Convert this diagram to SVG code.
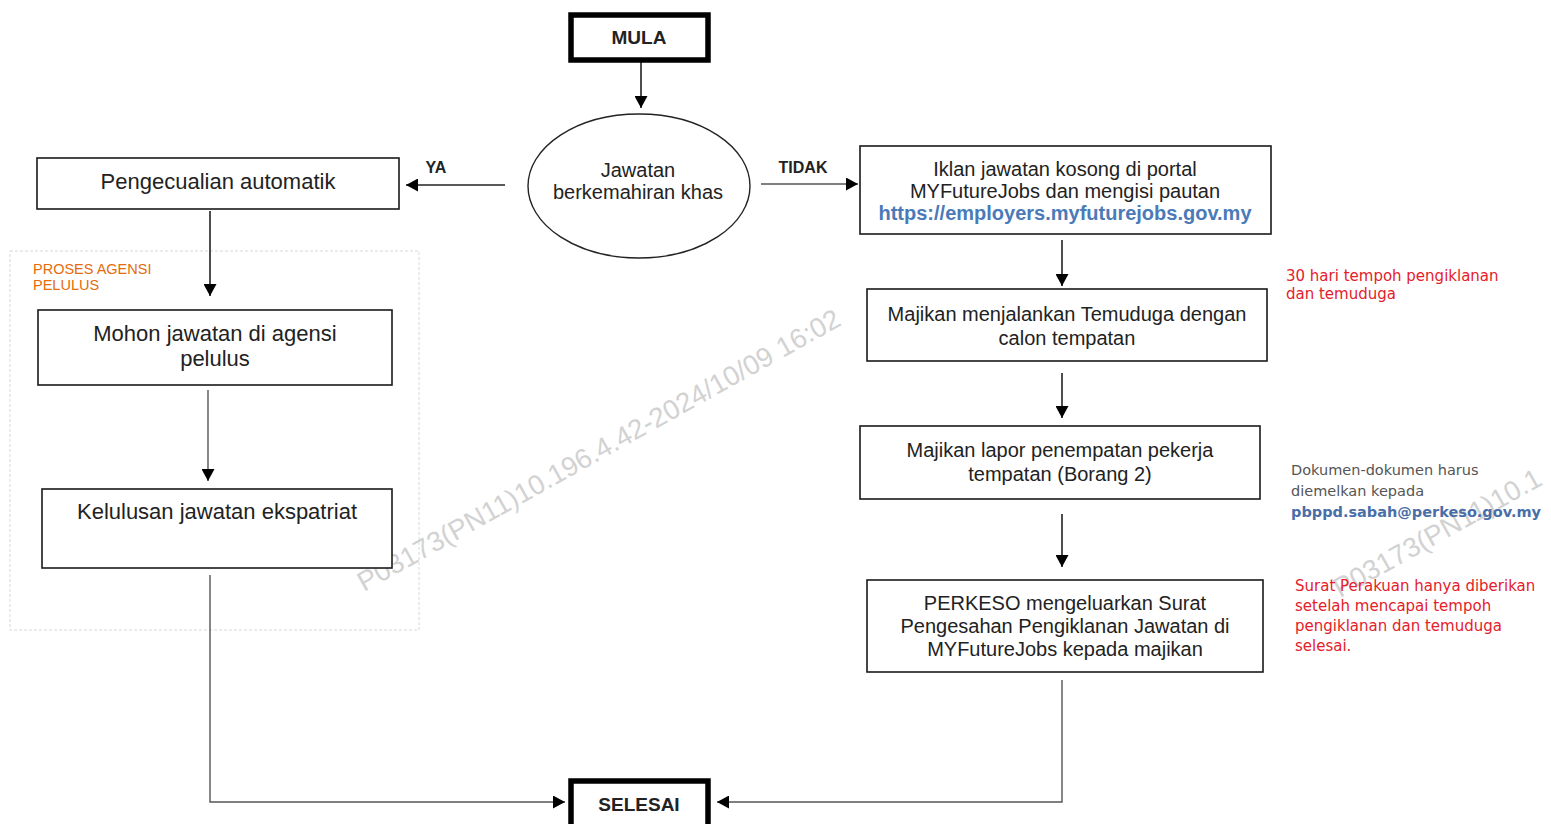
<svg xmlns="http://www.w3.org/2000/svg" width="1551" height="824" viewBox="0 0 1551 824">
<style>
.box{fill:#fff;stroke:#1a1a1a;stroke-width:1.6}
.term{fill:#fff;stroke:#000;stroke-width:5.5}
.t{font-family:"Liberation Sans",Arial,sans-serif;fill:#222;text-anchor:middle}
.l22{font-size:22px}
.l20{font-size:20px}
.b{font-weight:bold}
.url{fill:#4a7ab8;font-weight:bold}
.note{font-family:"DejaVu Sans",Verdana,sans-serif;font-size:14.5px}
.red{fill:#e5202a;font-size:15px}
.grey{fill:#555}
.blue{fill:#4a6ea8;font-weight:bold}
.wm{font-family:"Liberation Sans",Arial,sans-serif;font-size:27.5px;fill:#d2d2d2}
.c{fill:none;stroke:#222;stroke-width:1.6}
.cg{fill:none;stroke:#555;stroke-width:1.4}
</style>
<defs>
<marker id="ah" markerUnits="userSpaceOnUse" markerWidth="13" markerHeight="13" refX="12" refY="6.5" orient="auto">
<path d="M0,0 L12,6.5 L0,13 z" fill="#000"/>
</marker>
</defs>
<rect width="1551" height="824" fill="#fff"/>

<g id="region-agensi">
<rect x="10" y="251" width="409" height="379" fill="none" stroke="#d8d8d8" stroke-width="1" stroke-dasharray="3,2"/>
<text x="33" y="274" style="font-family:'Liberation Sans',Arial,sans-serif;font-size:14.5px;fill:#e46c0a">PROSES AGENSI</text>
<text x="33" y="290" style="font-family:'Liberation Sans',Arial,sans-serif;font-size:14.5px;fill:#e46c0a">PELULUS</text>
</g>

<g id="watermark">
<text class="wm" transform="translate(364,592) rotate(-29.2)">P03173(PN11)10.196.4.42-2024/10/09 16:02</text>
<text class="wm" transform="translate(1340,598) rotate(-29.2)">P03173(PN11)10.1</text>
</g>

<g id="connectors">
<path class="c" d="M641 62 L641 108" marker-end="url(#ah)"/>
<path class="c" d="M505 185 L406 185" marker-end="url(#ah)"/>
<path class="cg" d="M761 184 L858 184" marker-end="url(#ah)"/>
<path class="c" d="M210 211 L210 296" marker-end="url(#ah)"/>
<path class="cg" d="M208 390 L208 481" marker-end="url(#ah)"/>
<path class="cg" d="M210 575 L210 802 L565 802" marker-end="url(#ah)"/>
<path class="c" d="M1062 240 L1062 286" marker-end="url(#ah)"/>
<path class="c" d="M1062 373 L1062 418" marker-end="url(#ah)"/>
<path class="c" d="M1062 514 L1062 567" marker-end="url(#ah)"/>
<path class="cg" d="M1062 680 L1062 802 L717 802" marker-end="url(#ah)"/>
<text class="t b" x="436" y="173" style="font-size:16px">YA</text>
<text class="t b" x="803" y="173" style="font-size:16px">TIDAK</text>
</g>

<g id="mula">
<rect class="term" x="571" y="15" width="137" height="45"/>
<text class="t b" x="639" y="44" style="font-size:19px">MULA</text>
</g>

<g id="decision">
<ellipse cx="639" cy="186" rx="111" ry="72" fill="#fff" stroke="#222" stroke-width="1.4"/>
<text class="t l20" x="638" y="177">Jawatan</text>
<text class="t l20" x="638" y="199">berkemahiran khas</text>
</g>

<g id="pengecualian">
<rect class="box" x="37" y="158" width="362" height="51"/>
<text class="t l22" x="218" y="189">Pengecualian automatik</text>
</g>

<g id="mohon">
<rect class="box" x="38" y="310" width="354" height="75"/>
<text class="t l22" x="215" y="341">Mohon jawatan di agensi</text>
<text class="t l22" x="215" y="366">pelulus</text>
</g>

<g id="kelulusan">
<rect class="box" x="42" y="489" width="350" height="79"/>
<text class="t l22" x="217" y="519">Kelulusan jawatan ekspatriat</text>
</g>

<g id="iklan">
<rect class="box" x="860" y="146" width="411" height="88"/>
<text class="t l20" x="1065" y="176">Iklan jawatan kosong di portal</text>
<text class="t l20" x="1065" y="198">MYFutureJobs dan mengisi pautan</text>
<text class="t l20 url" x="1065" y="220">https://employers.myfuturejobs.gov.my</text>
</g>

<g id="temuduga">
<rect class="box" x="867" y="289" width="400" height="72"/>
<text class="t l20" x="1067" y="321">Majikan menjalankan Temuduga dengan</text>
<text class="t l20" x="1067" y="345">calon tempatan</text>
</g>

<g id="lapor">
<rect class="box" x="860" y="426" width="400" height="73"/>
<text class="t l20" x="1060" y="457">Majikan lapor penempatan pekerja</text>
<text class="t l20" x="1060" y="481">tempatan (Borang 2)</text>
</g>

<g id="perkeso">
<rect class="box" x="867" y="580" width="396" height="92"/>
<text class="t l20" x="1065" y="610">PERKESO mengeluarkan Surat</text>
<text class="t l20" x="1065" y="633">Pengesahan Pengiklanan Jawatan di</text>
<text class="t l20" x="1065" y="656">MYFutureJobs kepada majikan</text>
</g>

<g id="selesai">
<rect class="term" x="571" y="781" width="137" height="48"/>
<text class="t b" x="639" y="811" style="font-size:19px">SELESAI</text>
</g>

<g id="notes">
<text class="note red" x="1286" y="281">30 hari tempoh pengiklanan</text>
<text class="note red" x="1286" y="299">dan temuduga</text>
<text class="note grey" x="1291" y="475">Dokumen-dokumen harus</text>
<text class="note grey" x="1291" y="496">diemelkan kepada</text>
<text class="note blue" x="1291" y="517">pbppd.sabah@perkeso.gov.my</text>
<text class="note red" x="1295" y="591">Surat Perakuan hanya diberikan</text>
<text class="note red" x="1295" y="611">setelah mencapai tempoh</text>
<text class="note red" x="1295" y="631">pengiklanan dan temuduga</text>
<text class="note red" x="1295" y="651">selesai.</text>
</g>
</svg>
